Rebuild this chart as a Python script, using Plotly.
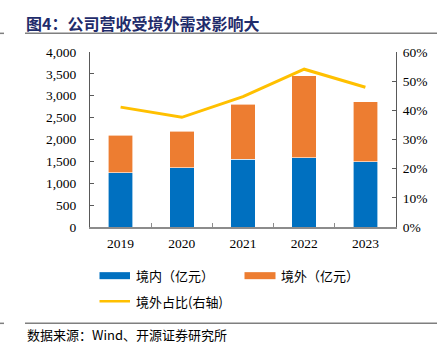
import plotly.graph_objects as go

years = ["2019", "2020", "2021", "2022", "2023"]
domestic = [1240, 1353, 1553, 1583, 1491]
overseas = [862, 835, 1254, 1873, 1369]
overseas_share = [0.411, 0.376, 0.447, 0.541, 0.479]

names = ["境内（亿元）", "境外（亿元）", "境外占比(右轴)"]
left_ticks = [0, 500, 1000, 1500, 2000, 2500, 3000, 3500, 4000]
right_ticks = [0, 0.1, 0.2, 0.3, 0.4, 0.5, 0.6]

BLUE = "#0070C0"
ORANGE = "#ED7D31"
YELLOW = "#FFC000"
serif = "Liberation Serif"
cjk = "Noto Sans CJK SC"

fig = go.Figure()
fig.add_trace(go.Bar(x=years, y=domestic, name=names[0], marker=dict(color=BLUE, line=dict(color="#ffffff", width=0.6))))
fig.add_trace(go.Bar(x=years, y=overseas, name=names[1], marker=dict(color=ORANGE, line=dict(color="#ffffff", width=0.6))))
fig.add_trace(go.Scatter(x=years, y=overseas_share, name=names[2], yaxis="y2", mode="lines",
                         line=dict(color=YELLOW, width=3)))

fig.update_layout(
    width=443, height=352,
    margin=dict(l=90, r=47, t=52, b=125),
    paper_bgcolor="white", plot_bgcolor="white",
    barmode="stack", bargap=0.6,
    showlegend=False,
    xaxis=dict(showline=True, linecolor="#8c8c8c", linewidth=2, ticks="inside", ticklen=4,
               tickcolor="#8c8c8c", tickson="boundaries", ticklabelstandoff=3,
               tickfont=dict(family=serif, size=13.5, color="#000"), showgrid=False),
    yaxis=dict(range=[0, 4000], tickvals=left_ticks, tickformat=",d", showline=True, linecolor="#595959",
               linewidth=1, ticks="inside", ticklen=4, tickcolor="#595959", showgrid=False, zeroline=False,
               tickfont=dict(family=serif, size=13.5, color="#000"), ticklabelstandoff=10),
    yaxis2=dict(range=[0, 0.6], tickvals=right_ticks, tickformat=".0%", overlaying="y", side="right",
                showline=True, linecolor="#595959", linewidth=1, ticks="inside", ticklen=4,
                tickcolor="#595959", showgrid=False, zeroline=False,
                tickfont=dict(family=serif, size=13.5, color="#000"), ticklabelstandoff=3),
)

shapes = []
annotations = []
def px_x(px):
    return (px - 90) / 306
def px_y(py):
    return (226.5 - py) / 174.4
# title and rules
annotations.append(dict(xref="paper", yref="paper", x=px_x(24), y=px_y(23), xanchor="left", yanchor="middle",
                        text="<b>图4：公司营收受境外需求影响大</b>", showarrow=False,
                        font=dict(family=cjk, size=16, color="#1F2C6B")))
shapes.append(dict(type="line", xref="paper", yref="paper", x0=px_x(25), x1=px_x(437), y0=px_y(33.5), y1=px_y(33.5),
                   line=dict(color="#7f7f7f", width=1.5)))
shapes.append(dict(type="line", xref="paper", yref="paper", x0=px_x(0), x1=px_x(4), y0=px_y(33.5), y1=px_y(33.5),
                   line=dict(color="#7f7f7f", width=1.5)))
shapes.append(dict(type="line", xref="paper", yref="paper", x0=px_x(25), x1=px_x(437), y0=px_y(322.5), y1=px_y(322.5),
                   line=dict(color="#7f7f7f", width=1.5)))
shapes.append(dict(type="line", xref="paper", yref="paper", x0=px_x(0), x1=px_x(4), y0=px_y(322.5), y1=px_y(322.5),
                   line=dict(color="#7f7f7f", width=1.5)))
annotations.append(dict(xref="paper", yref="paper", x=px_x(25), y=px_y(333.5), xanchor="left", yanchor="middle",
                        text="数据来源：Wind、开源证券研究所", showarrow=False,
                        font=dict(family=cjk, size=13, color="#000")))
# legend
shapes.append(dict(type="rect", xref="paper", yref="paper", x0=px_x(99.5), x1=px_x(130), y0=px_y(278.5), y1=px_y(271.5),
                   fillcolor=BLUE, line=dict(width=0)))
shapes.append(dict(type="rect", xref="paper", yref="paper", x0=px_x(244.5), x1=px_x(275.5), y0=px_y(278.5), y1=px_y(271.5),
                   fillcolor=ORANGE, line=dict(width=0)))
shapes.append(dict(type="line", xref="paper", yref="paper", x0=px_x(99.5), x1=px_x(130), y0=px_y(300.5), y1=px_y(300.5),
                   line=dict(color=YELLOW, width=2.5)))
annotations.append(dict(xref="paper", yref="paper", x=px_x(134), y=px_y(275), xanchor="left", yanchor="middle",
                        text=names[0], showarrow=False, font=dict(family=cjk, size=13, color="#000")))
annotations.append(dict(xref="paper", yref="paper", x=px_x(279), y=px_y(275), xanchor="left", yanchor="middle",
                        text=names[1], showarrow=False, font=dict(family=cjk, size=13, color="#000")))
annotations.append(dict(xref="paper", yref="paper", x=px_x(134), y=px_y(300.5), xanchor="left", yanchor="middle",
                        text=names[2], showarrow=False, font=dict(family=cjk, size=13, color="#000")))
fig.update_layout(shapes=shapes, annotations=annotations)

fig.write_html("out.html")
